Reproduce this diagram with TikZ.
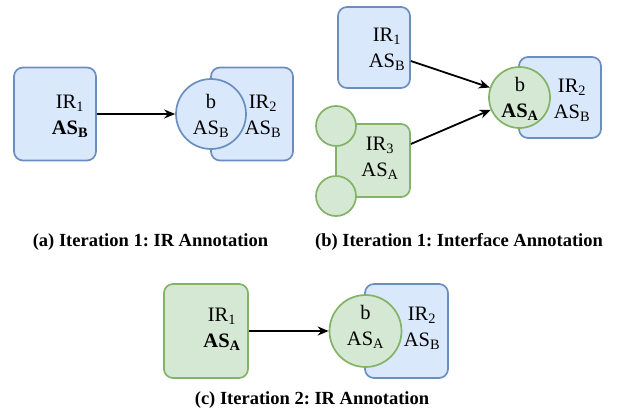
\documentclass[tikz,border=0pt]{standalone}
\usepackage{fontspec}
\setmainfont{Liberation Serif}
\usetikzlibrary{arrows.meta}
\frenchspacing

\definecolor{irfillblue}{HTML}{DAE8FC}
\definecolor{irdrawblue}{HTML}{6C8EBF}
\definecolor{irfillgreen}{HTML}{D5E8D4}
\definecolor{irdrawgreen}{HTML}{82B366}

\tikzset{
  irblue/.style={draw=irdrawblue, fill=irfillblue, line width=1.7pt, rounded corners=9pt, inner sep=0pt},
  irgreen/.style={draw=irdrawgreen, fill=irfillgreen, line width=1.7pt, rounded corners=9pt, inner sep=0pt},
  bblue/.style={circle, draw=irdrawblue, fill=irfillblue, line width=1.7pt, inner sep=0pt},
  bgreen/.style={circle, draw=irdrawgreen, fill=irfillgreen, line width=1.7pt, inner sep=0pt},
  lbl/.style={align=center, inner sep=0pt, font=\fontsize{20.5}{26}\selectfont},
  subcap/.style={inner sep=0pt, font=\fontsize{18.5}{22}\selectfont\bfseries},
  flow/.style={line width=1.8pt, -{Stealth[length=11pt,width=9pt]}}
}

\begin{document}
\begin{tikzpicture}[x=1pt, y=-1pt]
\useasboundingbox (0,0) rectangle (617,415);

% (a) iteration 1, IR annotation
\node[irblue, minimum width=82pt, minimum height=93pt] (a-ir1) at (55,114) {};
\node[irblue, minimum width=82pt, minimum height=93pt] (a-ir2) at (252,114) {};
\node[bblue, minimum size=70pt] (a-b) at (211,114) {};
\node[lbl] (a-ir1-t) at (70,116) {IR\textsubscript{1}\\\textbf{AS\textsubscript{B}}};
\node[lbl] (a-b-t) at (211,116) {b\\AS\textsubscript{B}};
\node[lbl] (a-ir2-t) at (263,116) {IR\textsubscript{2}\\AS\textsubscript{B}};
\draw[flow] (a-ir1) -- (a-b);
\node[subcap] (a-cap) at (150.5,242) {(a) Iteration 1: IR Annotation};

% (b) iteration 1, interface annotation
\node[irblue, minimum width=72pt, minimum height=81pt] (b-ir1) at (374,47.5) {};
\node[irblue, minimum width=82pt, minimum height=81pt] (b-ir2) at (560,97.5) {};
\node[bgreen, minimum size=61pt] (b-b) at (519.5,97.5) {};
\node[irgreen, minimum width=74pt, minimum height=73pt] (b-ir3) at (373,160.5) {};
\node[bgreen, minimum size=40pt] (b-p1) at (336,126) {};
\node[bgreen, minimum size=40pt] (b-p2) at (336,196) {};
\node[lbl] (b-ir1-t) at (387,49) {IR\textsubscript{1}\\AS\textsubscript{B}};
\node[lbl] (b-b-t) at (520,99) {b\\\textbf{AS\textsubscript{A}}};
\node[lbl] (b-ir2-t) at (572,100) {IR\textsubscript{2}\\AS\textsubscript{B}};
\node[lbl] (b-ir3-t) at (380,158) {IR\textsubscript{3}\\AS\textsubscript{A}};
\draw[flow] ([yshift=-13.5pt]b-ir1.east) -- (b-b);
\draw[flow] ([yshift=16.5pt]b-ir3.east) -- (b-b);
\node[subcap] (b-cap) at (459,242) {(b) Iteration 1: Interface Annotation};

% (c) iteration 2, IR annotation
\node[irgreen, minimum width=84pt, minimum height=94pt] (c-ir1) at (206,331) {};
\node[irblue, minimum width=83pt, minimum height=94pt] (c-ir2) at (406.5,331) {};
\node[bgreen, minimum size=72pt] (c-b) at (365.5,331) {};
\node[lbl] (c-ir1-t) at (222,329) {IR\textsubscript{1}\\\textbf{AS\textsubscript{A}}};
\node[lbl] (c-b-t) at (365.5,327) {b\\AS\textsubscript{A}};
\node[lbl] (c-ir2-t) at (422,328) {IR\textsubscript{2}\\AS\textsubscript{B}};
\draw[flow] (c-ir1) -- (c-b);
\node[subcap] (c-cap) at (312,400) {(c) Iteration 2: IR Annotation};
\end{tikzpicture}
\end{document}
